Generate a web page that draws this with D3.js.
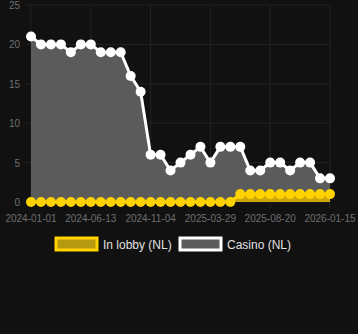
<!DOCTYPE html>
<html>
<head>
<meta charset="utf-8">
<script src="https://cdn.jsdelivr.net/npm/d3@7"></script>
<style>
  body { margin: 0; background: #111111; }
  svg { display: block; font-family: "Liberation Sans", Arial, sans-serif; }
</style>
</head>
<body>
<div id="chart"></div>
<script>
// values, one point per period
var casino = [21,20,20,20,19,20,20,19,19,19,16,14,6,6,4,5,6,7,5,7,7,7,4,4,5,5,4,5,5,3,3];
var lobby  = [0,0,0,0,0,0,0,0,0,0,0,0,0,0,0,0,0,0,0,0,0,1,1,1,1,1,1,1,1,1,1];
var tickLabels = ["2024-01-01","2024-06-13","2024-11-04","2025-03-29","2025-08-20","2026-01-15"];
var yTicks = [0,5,10,15,20,25];
var series = ["In lobby (NL)","Casino (NL)"];

var width = 358, height = 334;
var plotLeft = 31, plotRight = 330, plotTop = 5, plotBottom = 202;

var svg = d3.select("#chart").append("svg")
    .attr("width", width)
    .attr("height", height)

var x = d3.scalePoint().domain(d3.range(casino.length)).range([plotLeft, plotRight])
var y = d3.scaleLinear().domain([0, 25]).range([plotBottom, plotTop])

// grid
svg.append("g").selectAll("line")
    .data(yTicks)
    .enter().append("line")
    .attr("x1", plotLeft - 6).attr("x2", plotRight)
    .attr("y1", function(d){ return y(d) }).attr("y2", function(d){ return y(d) })
    .style("stroke", "#232323")
    .style("stroke-width", 1)

svg.append("g").selectAll("line")
    .data(tickLabels)
    .enter().append("line")
    .attr("x1", function(d,i){ return x(i*6) }).attr("x2", function(d,i){ return x(i*6) })
    .attr("y1", plotTop).attr("y2", plotBottom + 6)
    .style("stroke", "#232323")
    .style("stroke-width", 1)

// y labels
svg.append("g").selectAll("text")
    .data(yTicks)
    .enter().append("text")
    .attr("x", 20)
    .attr("y", function(d){ return y(d) + 4 })
    .attr("text-anchor", "end")
    .style("font-size", "10px")
    .style("fill", "#6f6f6f")
    .text(function(d){ return d })

// x labels
svg.append("g").selectAll("text")
    .data(tickLabels)
    .enter().append("text")
    .attr("x", function(d,i){ return x(i*6) })
    .attr("y", 222)
    .attr("text-anchor", "middle")
    .style("font-size", "10px")
    .style("fill", "#6f6f6f")
    .text(function(d){ return d })

// casino area + line
var area = d3.area()
    .x(function(d,i){ return x(i) })
    .y0(y(0))
    .y1(function(d){ return y(d) })

var line = d3.line()
    .x(function(d,i){ return x(i) })
    .y(function(d){ return y(d) })

svg.append("path")
    .datum(casino)
    .attr("d", area)
    .style("fill", "#5b5b5b")

svg.append("path")
    .datum(casino)
    .attr("d", line)
    .style("fill", "none")
    .style("stroke", "#ffffff")
    .style("stroke-width", 3)

svg.append("path")
    .datum(lobby)
    .attr("d", area)
    .style("fill", "#c9a60a")

svg.append("path")
    .datum(lobby)
    .attr("d", line)
    .style("fill", "none")
    .style("stroke", "#ffd200")
    .style("stroke-width", 3)

svg.append("g").selectAll("circle")
    .data(casino)
    .enter().append("circle")
    .attr("cx", function(d,i){ return x(i) })
    .attr("cy", function(d){ return y(d) })
    .attr("r", 5)
    .style("fill", "#ffffff")

svg.append("g").selectAll("circle")
    .data(lobby)
    .enter().append("circle")
    .attr("cx", function(d,i){ return x(i) })
    .attr("cy", function(d){ return y(d) })
    .attr("r", 5)
    .style("fill", "#ffd200")

// legend
var legendFill = ["#b89a10", "#5b5b5b"];
var legendStroke = ["#ffd200", "#ffffff"];
var legendX = [56, 180];

var legend = svg.append("g")
legend.selectAll("rect")
    .data(series)
    .enter().append("rect")
    .attr("x", function(d,i){ return legendX[i] })
    .attr("y", 238)
    .attr("width", 41)
    .attr("height", 12)
    .style("fill", function(d,i){ return legendFill[i] })
    .style("stroke", function(d,i){ return legendStroke[i] })
    .style("stroke-width", 3)

legend.selectAll("text")
    .data(series)
    .enter().append("text")
    .attr("x", function(d,i){ return legendX[i] + 47 })
    .attr("y", 249)
    .style("font-size", "12px")
    .style("fill", "#e0e0e0")
    .text(function(d){ return d })
</script>
</body>
</html>
